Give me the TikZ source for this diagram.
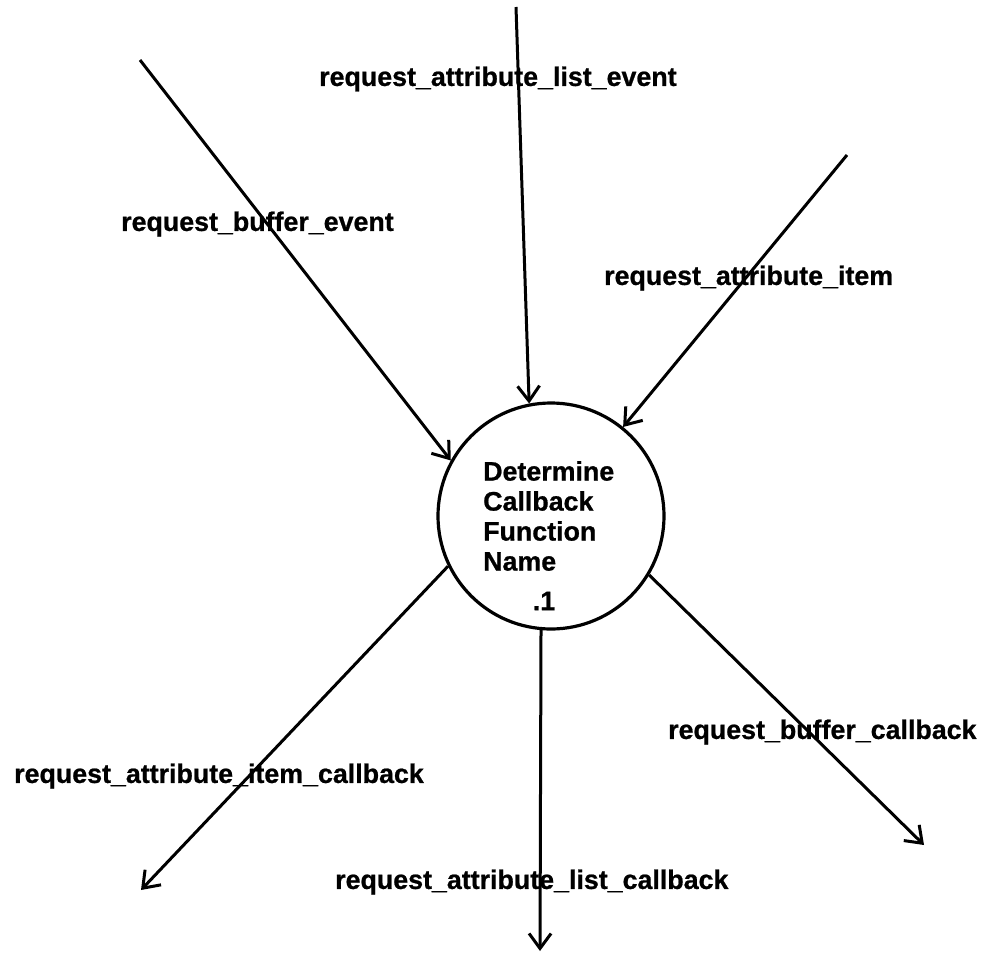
\documentclass[tikz,border=0pt]{standalone}
\usepackage{fontspec}
\setmainfont{Liberation Sans}[BoldFeatures={FakeBold=0.8}]
\usetikzlibrary{arrows.meta}
\begin{document}
\begin{tikzpicture}[x=1pt,y=-1pt,
  flow/.style={line width=3pt, -{Straight Barb[length=15pt,width=22pt]}},
  lbl/.style={font=\fontsize{26.8}{30}\selectfont\bfseries, inner sep=0pt, anchor=west},
  proc/.style={circle, draw, line width=3.2pt, minimum size=226pt, inner sep=0pt}]
\useasboundingbox (0,0) rectangle (986,956);
\node[proc] (c) at (551,516) {};
\node[lbl, align=left] (ctext) at (483,516) {Determine\\Callback\\Function\\Name};
\node[lbl, anchor=center] (cnum) at (544,601) {.1};

\coordinate (s1) at (140,60);
\coordinate (s2) at (516,7);
\coordinate (s3) at (847,155);
\coordinate (t4) at (141,890);
\coordinate (t5) at (540,951);
\coordinate (t6) at (924,845);

\node[lbl] (l2) at (319,79) {request\_attribute\_list\_event};
\node[lbl] (l1) at (121,224) {request\_buffer\_event};
\node[lbl] (l3) at (604,278) {request\_attribute\_item};
\node[lbl] (l6) at (668,732) {request\_buffer\_callback};
\node[lbl] (l4) at (14,776) {request\_attribute\_item\_callback};
\node[lbl] (l5) at (335,882) {request\_attribute\_list\_callback};

\draw[flow] (s1) -- (c.151);
\draw[flow] (s2) -- (c.101);
\draw[flow] (s3) -- (c.51);
\draw[flow] (c.206) -- (t4);
\draw[flow] (c.265) -- (t5);
\draw[flow] (c.329) -- (t6);
\end{tikzpicture}
\end{document}
